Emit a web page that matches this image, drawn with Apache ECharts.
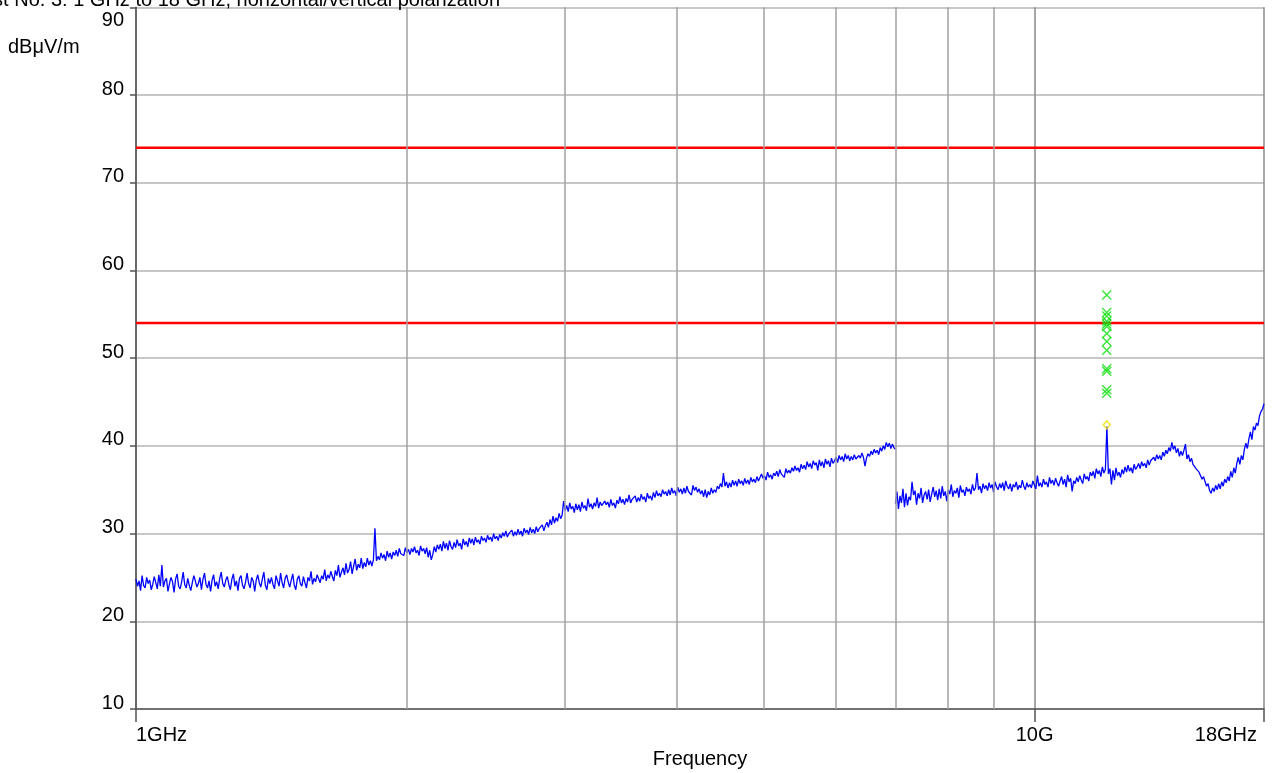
<!DOCTYPE html>
<html>
<head>
<meta charset="utf-8">
<title>Radiated emission 1 GHz to 18 GHz</title>
<script src="https://cdn.jsdelivr.net/npm/echarts@6/dist/echarts.min.js"></script>
<style>
html, body { margin: 0; padding: 0; background: #fff; }
#chart { width: 1274px; height: 773px; }
</style>
</head>
<body>
<div id="chart"></div>
<script>
// sweep 1: 1 GHz .. 7 GHz, level in dBuV/m
var sweepA = [1, 7];
var levelsA = [
  24.8, 24.0, 24.6, 23.5, 25.2, 24.1, 23.8, 25.0, 24.3, 24.7,
  23.6, 24.2, 25.1, 24.4, 23.7, 25.3, 24.0, 26.4, 23.9, 24.6,
  24.9, 23.4, 24.3, 25.0, 24.5, 23.3, 24.8, 25.4, 24.0, 23.7,
  24.5, 25.6, 24.2, 23.8, 24.9, 24.1, 23.5, 24.4, 25.2, 24.6,
  23.9, 24.3, 25.0, 23.6, 24.8, 25.5, 24.2, 23.8, 24.6, 23.4,
  24.7, 25.3, 24.0, 24.5, 23.7, 24.9, 25.6, 24.3, 23.9, 24.7,
  25.1, 24.2, 23.6, 24.8, 25.4, 24.0, 24.6, 23.5, 24.9, 25.2,
  24.1, 23.7, 24.5, 25.5, 24.3, 23.8, 25.0, 24.6, 23.4, 24.7,
  25.3, 24.4, 23.9, 24.8, 25.6, 24.1, 23.6, 24.9, 24.3, 25.0,
  24.2, 23.7, 25.2, 24.6, 24.0, 25.5, 24.4, 23.8, 24.9, 25.3,
  24.5, 23.9, 24.7, 25.4, 24.1, 23.6, 24.8, 25.2, 24.3, 24.0,
  25.1, 24.4, 23.8, 25.0, 24.6, 25.7, 24.2, 24.9, 24.5, 25.3,
  25.5, 24.4, 25.2, 24.8, 25.9, 24.6, 25.3, 24.9, 25.7, 25.1,
  24.6, 25.8, 25.2, 26.4, 25.0, 25.6, 26.1, 25.3, 26.6, 25.5,
  25.9, 26.8, 25.4, 26.3, 27.1, 25.8, 26.5, 26.1, 27.2, 26.0,
  26.7, 26.2, 27.2, 26.4, 26.9, 26.3, 27.0, 30.6, 26.9, 27.4,
  27.0, 27.8, 27.2, 27.6, 26.9, 28.0, 27.3, 27.8, 27.1, 27.9,
  27.5, 28.1, 27.4, 28.3, 27.7, 27.9, 27.5, 28.4, 27.8, 28.2,
  27.6, 28.3, 27.9, 28.5, 27.8, 28.1, 27.5, 28.6, 28.0, 28.3,
  27.7, 28.4, 27.3, 28.1, 27.0, 27.6, 28.5, 27.9, 28.7, 28.2,
  28.8, 28.0, 29.1, 28.3, 28.9, 28.1, 29.2, 28.5, 28.2, 29.0,
  28.4, 29.3, 28.6, 28.9, 28.2, 29.4, 28.7, 29.1, 28.5, 29.5,
  28.9, 29.4, 28.7, 29.6, 29.0, 29.3, 28.8, 29.7, 29.2, 29.5,
  29.0, 29.8, 29.3, 29.6, 29.1, 30.0, 29.4, 29.7, 29.2, 29.9,
  29.5, 30.1, 29.7, 30.3, 29.6, 30.0, 29.8, 30.4, 29.7, 30.2,
  29.8, 30.5, 29.9, 30.3, 29.7, 30.6, 30.1, 30.4, 29.9, 30.7,
  30.1, 30.5, 30.0, 30.8, 30.2, 30.6, 30.4, 31.0, 30.3, 30.9,
  31.3, 30.7, 31.6, 31.0, 32.0, 31.2, 31.8, 31.4, 32.3, 31.7,
  32.1, 33.7, 32.6, 33.2, 32.5, 33.5, 32.8, 33.1, 32.4, 33.4,
  32.7, 33.3, 32.5, 33.6, 32.9, 33.2, 32.6, 34.0, 33.0, 33.4,
  32.8, 33.5, 33.1, 34.1, 32.9, 33.6, 33.2, 33.0, 33.7, 33.3,
  33.6, 33.0, 33.9, 33.2, 33.5, 32.9, 33.8, 33.4, 34.2, 33.5,
  33.9, 33.3, 34.0, 33.6, 34.4, 33.5, 33.9, 33.7, 34.3, 33.6,
  34.1, 33.7, 34.5, 33.9, 34.2, 33.6, 34.6, 34.0, 34.3, 33.8,
  34.7, 34.1, 34.9, 34.3, 34.6, 34.2, 35.0, 34.5, 34.8, 34.3,
  35.0, 34.4, 35.2, 34.6, 34.9, 34.3, 35.3, 34.7, 35.1, 34.5,
  35.2, 34.6, 35.4, 34.8, 35.0, 34.4, 35.5, 34.9, 35.3, 34.7,
  35.1, 34.5, 34.9, 34.2, 35.0, 34.1, 34.8, 34.4, 35.2, 34.6,
  35.0, 34.7, 35.4, 35.1, 35.7, 35.3, 36.9, 35.4, 35.9, 35.2,
  35.8, 35.3, 36.1, 35.5, 36.0, 35.4, 36.2, 35.7, 36.0, 35.5,
  36.3, 35.7, 36.1, 35.6, 36.4, 35.9, 36.2, 35.8, 36.5, 36.0,
  36.2, 36.8, 36.3, 36.6, 36.1, 37.0, 36.4, 36.7, 36.2, 36.9,
  36.6, 37.1, 36.5, 37.3, 36.8, 37.0, 36.4, 37.4, 36.9, 37.2,
  36.9, 37.5, 37.1, 37.7, 37.2, 37.5, 37.0, 37.9, 37.4, 37.8,
  37.3, 38.2, 37.6, 38.0, 37.4, 38.3, 37.8, 38.1, 37.2, 38.4,
  37.7, 38.2, 37.5, 38.5, 37.9, 38.3, 37.6, 38.6, 38.0, 38.3,
  38.7, 38.1, 38.9, 38.4, 38.8, 38.2, 39.1, 38.5, 38.9, 38.3,
  38.8, 38.4, 39.0, 38.5, 38.3, 38.9, 38.6, 39.2, 38.7, 37.7,
  38.6, 39.1, 38.8, 39.4, 39.0, 39.6, 39.2, 39.5, 39.0, 39.8,
  39.4, 40.0, 39.6, 40.4, 39.9, 40.3, 39.7, 40.2, 39.8, 39.6
];

// sweep 2: 7 GHz .. 18 GHz
var sweepB = [7, 18];
var levelsB = [
  33.4, 34.8, 32.8, 34.3, 33.5, 35.1, 33.0, 34.6, 33.2, 34.2,
  33.8, 35.9, 34.4, 34.9, 33.3, 34.6, 34.0, 35.2, 33.5, 34.4,
  34.8, 33.9, 35.0, 33.6, 34.5, 35.3, 34.2, 34.9, 33.8, 35.1,
  34.0, 35.4, 34.3, 34.8, 33.7, 35.0, 34.5, 35.6, 34.2, 34.9,
  34.6, 35.2, 34.1, 35.5, 34.7, 35.0, 34.3, 35.3, 34.8, 35.1,
  34.5, 35.6, 34.9, 35.2, 36.9, 35.0, 35.4, 34.6, 35.7, 35.1,
  35.5, 34.9, 35.8, 35.2, 35.6, 34.7, 35.9, 35.3, 35.0, 35.7,
  35.2, 35.8, 34.9, 36.0, 35.4, 35.1, 35.7, 34.8, 35.6, 35.3,
  35.9, 35.0, 35.5, 35.2, 36.1, 35.4, 35.0, 35.8, 35.3, 35.6,
  35.2, 36.0, 35.5, 35.1, 36.6, 35.4, 35.8, 35.3, 36.2, 35.6,
  35.9, 35.3, 36.4, 35.7, 36.1, 35.5, 36.3, 35.8, 35.4, 36.0,
  36.5, 35.6, 36.2, 35.3, 36.7, 35.9, 36.3, 34.8, 36.0, 35.7,
  36.4, 35.9, 36.6, 36.1, 35.7, 36.8, 36.2, 36.5, 36.0, 37.0,
  36.6, 37.1, 36.3, 37.4, 36.8, 37.2, 36.5, 37.6, 36.9, 37.3,
  42.2, 36.8, 37.4, 35.6, 37.2, 36.1, 37.5, 36.6, 37.0, 36.4,
  37.3, 36.8, 37.6, 37.0, 37.8, 37.1, 37.5, 36.9, 37.9, 37.3,
  37.6, 38.0, 37.4, 38.2, 37.7, 38.0, 37.5, 38.4, 37.8, 38.3,
  38.1, 38.7, 38.3, 39.0, 38.5, 38.9, 38.4, 39.3, 38.8, 39.5,
  39.1, 39.8, 39.4, 40.4, 39.6, 40.0, 39.2, 39.7, 38.8, 39.4,
  38.9, 39.5, 40.2, 38.5, 39.0, 38.2, 38.6, 37.9, 38.1, 37.4,
  37.6, 37.0, 36.8, 36.2, 36.5, 35.9, 35.4, 35.7, 34.9, 34.6,
  35.2, 34.8, 35.5, 35.0, 35.7, 35.1, 35.9, 35.4, 36.2, 35.8,
  36.5, 36.0, 37.1, 36.4, 37.5, 36.9, 38.0, 38.7, 37.9, 38.9,
  38.4, 39.6, 40.3, 39.7, 40.8, 41.6, 40.7, 42.2, 41.8, 42.6,
  42.3, 43.4, 43.9, 44.2, 44.8
];

// final measurements at 12.03 GHz
var peakFreq = 12.03;
var peakLevels = [57.2, 55.2, 54.8, 54.2, 53.9, 53.6, 52.8, 51.9, 50.9, 48.8, 48.5, 46.4, 46.0];
var markerLevel = 42.4;

// limit lines
var limitPeak = 74;
var limitAvg = 54;
var freqRange = [1, 18];
var gridFreqs = [2, 3, 4, 5, 6, 7, 8, 9];

// sweep points are spread log-evenly between start and stop
function sweepPoints(range, levels) {
  var n = levels.length;
  return levels.map(function (v, i) {
    return [range[0] * Math.pow(range[1] / range[0], i / (n - 1)), v];
  });
}

var font = 'Arial, "Liberation Sans", sans-serif';

var option = {
  animation: false,
  backgroundColor: '#fff',
  title: {
    text: 'Test No. 3: 1 GHz to 18 GHz, horizontal/vertical polarization',
    left: -33,
    top: -15,
    textStyle: { fontFamily: font, fontSize: 20, fontWeight: 'normal', color: '#000' }
  },
  graphic: [{
    type: 'text',
    left: 8,
    top: 37,
    style: { text: 'dBμV/m', font: '20px ' + font, fill: '#000' }
  }],
  grid: { left: 136, right: 10, top: 7.3, bottom: 64, outerBoundsMode: 'none' },
  xAxis: {
    type: 'log',
    logBase: 10,
    min: freqRange[0],
    max: freqRange[1],
    name: 'Frequency',
    nameLocation: 'middle',
    nameGap: 40,
    nameTextStyle: { fontFamily: font, fontSize: 20, color: '#000' },
    axisLine: { lineStyle: { color: '#555', width: 1.5 } },
    axisTick: { show: true, length: 13, lineStyle: { color: '#555', width: 1.5 } },
    axisLabel: {
      fontFamily: font, fontSize: 20, color: '#000', margin: 16,
      alignMinLabel: 'left', alignMaxLabel: 'right',
      formatter: function (v) {
        if (Math.abs(v - 1) < 0.01) return '1GHz';
        if (Math.abs(v - 10) < 0.01) return '10G';
        return '{r|18GHz}';
      },
      rich: { r: { fontFamily: font, fontSize: 20, color: '#000', padding: [0, 7, 0, 0] } }
    },
    splitLine: { show: true, lineStyle: { color: '#8a8a8a', width: 1.5 } }
  },
  yAxis: {
    type: 'value',
    min: 10,
    max: 90,
    interval: 10,
    axisLine: { show: true, lineStyle: { color: '#555', width: 1.5 } },
    axisTick: { show: true, length: 6, lineStyle: { color: '#555', width: 1.5 } },
    axisLabel: {
      fontFamily: font, fontSize: 20, color: '#000', margin: 12,
      verticalAlign: 'middle',
      formatter: function (v) { return v === 90 ? '{t|90}' : '{n|' + v + '}'; },
      rich: {
        t: { fontFamily: font, fontSize: 20, color: '#000', padding: [26, 0, 0, 0] },
        n: { fontFamily: font, fontSize: 20, color: '#000', padding: [0, 0, 12, 0] }
      }
    },
    splitLine: { show: true, lineStyle: { color: '#b4b4b4', width: 1.5 } }
  },
  series: [
    {
      // vertical frequency grid 2..9 GHz
      type: 'line',
      data: [],
      z: 1,
      silent: true,
      markLine: {
        silent: true,
        symbol: 'none',
        label: { show: false },
        lineStyle: { color: '#a0a0a0', width: 1.5, type: 'solid' },
        data: gridFreqs.map(function (f) { return { xAxis: f }; })
      }
    },
    {
      name: 'Peak limit',
      type: 'line',
      z: 2,
      showSymbol: false,
      data: [[freqRange[0], limitPeak], [freqRange[1], limitPeak]],
      lineStyle: { color: '#ff0000', width: 2.5 }
    },
    {
      name: 'Average limit',
      type: 'line',
      z: 2,
      showSymbol: false,
      data: [[freqRange[0], limitAvg], [freqRange[1], limitAvg]],
      lineStyle: { color: '#ff0000', width: 2.5 }
    },
    {
      name: 'Sweep',
      type: 'line',
      z: 3,
      showSymbol: false,
      sampling: null,
      data: sweepPoints(sweepA, levelsA),
      lineStyle: { color: '#0000ff', width: 1.3 }
    },
    {
      name: 'Sweep',
      type: 'line',
      z: 3,
      showSymbol: false,
      sampling: null,
      data: sweepPoints(sweepB, levelsB),
      lineStyle: { color: '#0000ff', width: 1.3 }
    },
    {
      name: 'Marker',
      type: 'scatter',
      z: 4,
      symbol: 'diamond',
      symbolSize: [7, 8],
      data: [[peakFreq, markerLevel]],
      itemStyle: { color: 'rgba(0,0,0,0)', borderColor: '#f2e000', borderWidth: 1.5 }
    },
    {
      name: 'Final',
      type: 'scatter',
      z: 5,
      symbol: 'path://M0,0L10,10M10,0L0,10',
      symbolSize: 9,
      data: peakLevels.map(function (v) { return [peakFreq, v]; }),
      itemStyle: { color: 'rgba(0,0,0,0)', borderColor: '#10e010', borderWidth: 1.5 }
    }
  ]
};

var myChart = echarts.init(document.getElementById('chart'));
myChart.setOption(option);
</script>
</body>
</html>
